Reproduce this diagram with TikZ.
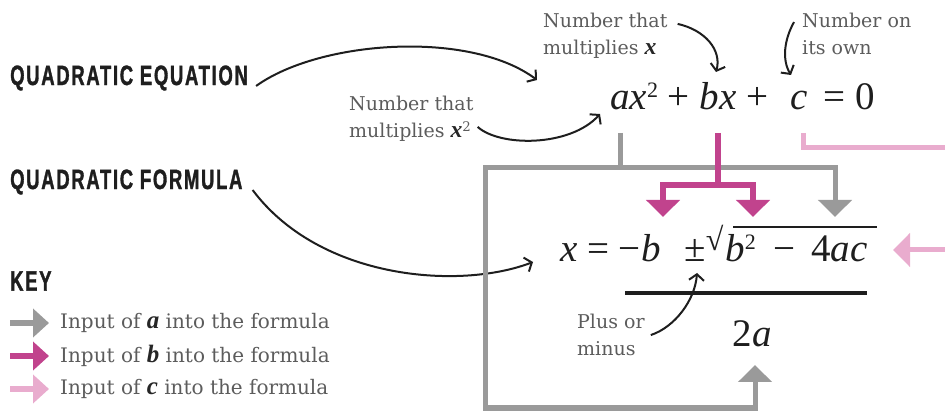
\documentclass[tikz,border=0pt]{standalone}
\usepackage{fontspec}
\usepackage{xcolor}
\usetikzlibrary{arrows.meta, positioning}
\setmainfont{DejaVu Serif}
\newfontfamily\headfont[FakeStretch=0.66, LetterSpace=6, FakeBold=1.2]{Liberation Sans}
\newfontfamily\eqfont{Liberation Serif}
\newcommand{\bivar}[1]{{\eqfont\bfseries\itshape\color{black!85}\fontsize{1.25em}{1em}\selectfont#1}}
\newcommand{\sqr}{\raisebox{12pt}{\fontsize{22}{22}\selectfont 2}}
\newcommand{\rad}{\raisebox{11pt}{\fontsize{32}{32}\selectfont √}}
\definecolor{inputgray}{RGB}{154, 154, 154}
\definecolor{inputmag}{RGB}{193, 67, 141}
\definecolor{inputpink}{RGB}{233, 172, 206}
\definecolor{notegray}{RGB}{92, 92, 92}
\definecolor{inkblack}{RGB}{30, 30, 30}
\tikzstyle{heading} = [anchor=west, inner sep=0pt, text=inkblack, font=\headfont\bfseries\fontsize{28}{30}\selectfont]
\tikzstyle{note} = [anchor=north west, inner sep=0pt, align=left, text=notegray, font=\fontsize{19}{27}\selectfont]
\tikzstyle{keytext} = [anchor=west, inner sep=0pt, text=notegray, font=\fontsize{20}{22}\selectfont]
\tikzstyle{maths} = [inner sep=0pt, text=inkblack, font=\eqfont\fontsize{39}{40}\selectfont]
\tikzstyle{pointer} = [-{Straight Barb[length=6pt, width=15pt]}, line width=2pt, inkblack]
\tikzstyle{flow} = [line width=5pt, -{Triangle[length=17pt, width=33pt]}]
\tikzstyle{keyarrow} = [line width=6pt, -{Triangle[length=16pt, width=28pt]}]

\begin{document}
\begin{tikzpicture}[x=1pt, y=-1pt]
    \useasboundingbox (0,0) rectangle (945,411);

    % Headings
    \node[heading] (eqhead) at (10,78) {QUADRATIC EQUATION};
    \node[heading] (fmlhead) at (10,182) {QUADRATIC FORMULA};
    \node[heading] (keyhead) at (10,281) {KEY};

    % Quadratic equation
    \node[maths, anchor=base west] (quad) at (610,110) {\textit{ax}\sqr\ + \textit{bx} + \hspace{13pt}\textit{c}\hspace{6pt} = 0};

    % Annotations of the equation
    \node[note] (xsqnote) at (349,96) {Number that\\multiplies \bivar{x}\textsuperscript{2}};
    \node[note] (bnote) at (543,13) {Number that\\multiplies \bivar{x}};
    \node[note] (cnote) at (802,13) {Number on\\its own};

    % Quadratic formula
    \node[maths, anchor=base west] (formula) at (560,262) {\textit{x} = −\textit{b}\hspace{24pt}±\rad\hspace{2pt}\textit{b}\sqr\hspace{8pt} − \hspace{6pt}4\textit{ac}};
    \coordinate (radl) at (733,227);
    \coordinate (radr) at (877,227);
    \draw[line width=1.5pt, inkblack] (radl) -- (radr);
    \coordinate (barl) at (625,293);
    \coordinate (barr) at (867,293);
    \draw[line width=4pt, inkblack] (barl) -- (barr);
    \node[maths, anchor=base] (denom) at (752,347) {2\textit{a}};
    \node[note] (pmnote) at (577,314) {Plus or\\minus};

    % Pointers
    \coordinate (eqtip) at (537,80);
    \coordinate (xsqtip) at (600,114);
    \coordinate (btip) at (716,72);
    \coordinate (ctip) at (791,75);
    \coordinate (fmltip) at (533,262);
    \coordinate (pmtip) at (697,273);
    \draw[pointer] ([shift={(8,8)}]eqhead.east) .. controls (320,40) and (470,30) .. (eqtip);
    \draw[pointer] ([shift={(4,8)}]xsqnote.east) .. controls (500,147) and (570,147) .. (xsqtip);
    \draw[pointer] ([shift={(10,-12)}]bnote.east) .. controls (705,30) and (722,50) .. (btip);
    \draw[pointer] ([shift={(-8,-12)}]cnote.west) .. controls (784,40) and (782,60) .. (ctip);
    \draw[pointer] ([shift={(10,8)}]fmlhead.east) .. controls (320,280) and (460,290) .. (fmltip);
    \draw[pointer] ([shift={(6,0)}]pmnote.east) .. controls (675,327) and (695,300) .. (pmtip);

    % Input of a
    \coordinate (ina) at (620,133);
    \coordinate (ajoin) at (620,168);
    \coordinate (acorner) at (485,408);
    \coordinate (atop) at (835,217);
    \coordinate (abot) at (755,365);
    \draw[flow, inputgray] (ina) -- (ajoin) -| (atop);
    \draw[flow, inputgray] (ajoin) -| (acorner) -| (abot);

    % Input of b
    \coordinate (inb) at (718,133);
    \coordinate (bjoin) at (718,185);
    \coordinate (bleft) at (663,217);
    \coordinate (bright) at (753,217);
    \draw[flow, inputmag, line width=6pt] (inb) -- (bjoin) -| (bleft);
    \draw[flow, inputmag, line width=6pt] (bjoin) -| (bright);

    % Input of c
    \coordinate (inc) at (803,133);
    \coordinate (cout) at (945,148);
    \coordinate (cin) at (945,250);
    \coordinate (cend) at (893,250);
    \draw[line width=5pt, inputpink] (inc) |- (cout);
    \draw[flow, inputpink] (cin) -- (cend);

    % Key
    \foreach \col/\letter [count=\i] in {inputgray/a, inputmag/b, inputpink/c} {
        \coordinate (kstart\i) at (10,{290+33*\i});
        \node[keytext] (key\letter) at (60,{290+33*\i}) {Input of \bivar{\letter} into the formula};
        \draw[keyarrow, \col] (kstart\i) -- ([xshift=-11pt]key\letter.west);
    }
\end{tikzpicture}
\end{document}
